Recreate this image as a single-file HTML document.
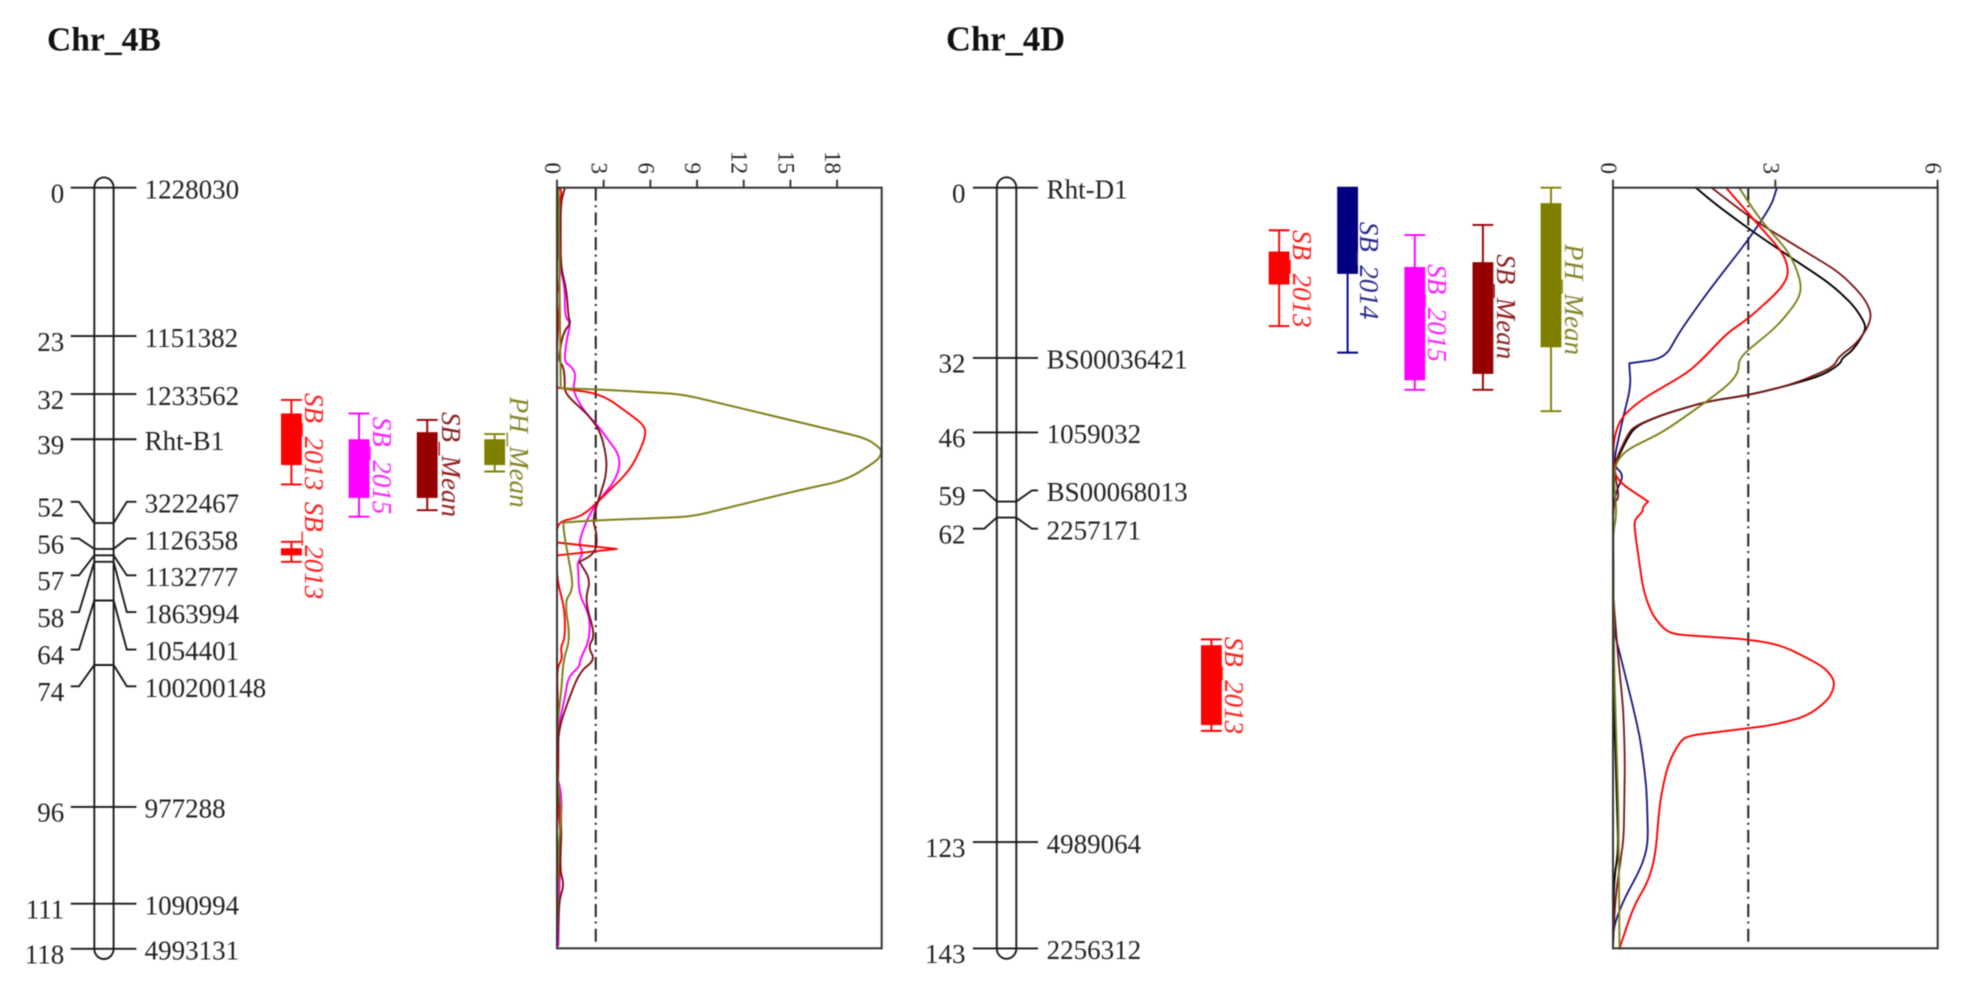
<!DOCTYPE html>
<html lang="en">
<head>
<meta charset="utf-8">
<title>Chr_4B and Chr_4D QTL maps</title>
<style>
html,body{margin:0;padding:0;background:#fff;width:1965px;height:990px;overflow:hidden}
svg{display:block;filter:blur(0.45px)}
text{font-family:"Liberation Serif","DejaVu Serif",serif;fill:#222}
</style>
</head>
<body>
<svg id="chart" xmlns="http://www.w3.org/2000/svg" width="1965" height="990" viewBox="0 0 1965 990">
<rect x="0" y="0" width="1965" height="990" fill="#fff"/>
<text x="47" y="50.7" font-size="33.6" font-weight="700" style="fill:#111">Chr_4B</text>
<text x="946" y="50.7" font-size="34.6" font-weight="700" style="fill:#111">Chr_4D</text>
</svg>
<script>
/* ---------- Chr_4B marker map ---------- */
const markerNames4B = ['1228030','1151382','1233562','Rht-B1','3222467','1126358','1132777','1863994','1054401','100200148','977288','1090994','4993131'];
const markerPos4B = [0,23,32,39,52,56,57,58,64,74,96,111,118];
const labelPos4B = [0,23,32,39,48.7,54.4,60.1,65.8,71.6,77.3,96,111,118];

/* ---------- Chr_4D marker map ---------- */
const markerNames4D = ['Rht-D1','BS00036421','1059032','BS00068013','2257171','4989064','2256312'];
const markerPos4D = [0,32,46,59,62,123,143];
const labelPos4D = [0,32,46,56.9,64.1,123,143];

/* ---------- QTL intervals (cM): names, whisker start/end, box start/end ---------- */
const qtlNames4B = ['SB_2013','SB_2015','SB_Mean','PH_Mean','SB_2013'];
const qtlLow4B = [32.9,35,36,38.2,54.9];
const qtlBoxLow4B = [35,39,37.9,39,55.9];
const qtlBoxHigh4B = [43,48.1,48.1,43,57];
const qtlHigh4B = [46,51,50,44,58];

const qtlNames4D = ['SB_2013','SB_2014','SB_2015','SB_Mean','PH_Mean','SB_2013'];
const qtlLow4D = [8,0,8.9,7,0,84.9];
const qtlBoxLow4D = [12,0,14.9,14,2.9,86];
const qtlBoxHigh4D = [18.2,16.2,36.2,35,30,101];
const qtlHigh4D = [26,31,38,38,42,102.1];

/* ---------- LOD axis ---------- */
const ticks4B = [0,3,6,9,12,15,18];
const ticks4D = [0,3,6];
const threshold4B = 2.49;
const threshold4D = 2.5;

/* ---------- Chr_4B LOD series ---------- */
const cM4B_magenta = [0,3.5,12.2,15.3,20,21,23.6,27,27.75,29,31.4,34.5,37,39.1,41.2,43.3,45.8,47.9,51,55.1,56.7,58.2,59.3,62.9,66.5,70.1,73.2,74.3,75.8,79,83.6,91.3,93.4,96,99,109.4,117.5];
const lod4B_magenta = [0,0,0.15,0.51,0.51,0.88,0.62,0.45,0.94,1.22,1.0,1.69,2.66,3.3,3.94,4.05,3.62,2.87,2.0,1.37,1.69,1.31,1.37,1.41,2.12,2.08,1.48,1.44,0.73,0.51,0.09,0,0.24,0.3,0.24,0.15,0.09];
const cM4B_maroon = [0,2.4,12.2,15.9,20,21,22.1,23.6,26.7,27.75,29.8,31.4,32.7,35,37.6,41.7,44.8,48.4,51.5,53.6,55.7,57,58,60.8,64,69.4,71.2,73.2,75,79.4,84.1,91.3,99.1,105.8,108.1,110.4,117.5];
const lod4B_maroon = [0.51,0.24,0.24,0.62,0.73,0.88,0.51,0.3,0.09,0.41,0.51,0.47,0.84,1.91,2.76,3.19,3.15,2.66,2.29,2.55,2.55,2.23,1.44,2.16,1.8,2.44,2.0,2.44,1.48,0.73,0.09,0,0.3,0.19,0.45,0.15,0];
const cM4B_red = [0,0.9,2.4,5.5,14.8,16.4,21,24.7,31,32,35.5,36.8,38,40.2,43.8,48.4,51,51.8,55,56,57,60.8,65.5,69.9,71.2,73,74.5,83.6,91.3,93.8,99,104,109.4,117.5];
const lod4B_red = [0.19,0.3,0.15,0,0,0.19,0.09,0,0,2.87,4.9,5.55,5.72,5.44,4.69,2.76,1.59,0,0,3.84,0,0,0.51,0.51,0.24,0.34,0,0.09,0.09,0,0.19,0.24,0,0];
const cM4B_olive = [0,31.1,31.27,32,38.86,40.4,40.9,42.2,45.3,47,51,51.6,51.9,53.6,57.2,60.8,62.6,64.2,69.9,73.2,77.4,83.6,91.3,97,102.2,117.5];
const lod4B_olive = [0.1,0.24,2.55,8.01,19.9,20.76,20.87,20.66,18.62,15.4,8.66,2.34,0.41,0.45,0.72,0.99,0.94,0.51,0.84,0.41,0.3,0,0,0.3,0.09,0];

/* ---------- Chr_4D LOD series ---------- */
const cM4D_black = [0,3.3,8.3,13,18,22,25.5,27,30.5,32.1,33,35.2,37.1,39,40.2,42.7,44.9,47.4,50.6,52.4,58.7,98,124.5,130,142];
const lod4D_black = [1.53,1.92,2.59,3.27,4.01,4.44,4.66,4.66,4.44,4.23,4.21,3.89,3.27,2.5,1.73,0.9,0.41,0.25,0.1,0,0,0.02,0.1,0.02,0];
const cM4D_navy = [0,3.3,9.8,19.9,27.4,32.1,33,37.4,43,52.1,54,56.8,60,82.5,93.8,103.2,112.6,123.3,127.6,134,138.9,143];
const lod4D_navy = [3.03,2.93,2.5,1.73,1.21,0.96,0.3,0.33,0.19,0,0.2,0.07,0,0,0.28,0.5,0.62,0.65,0.53,0.19,0.01,0];
const cM4D_maroon = [0,6,11,16,20.5,23.6,26.1,29.3,31.8,33.3,34.6,37.1,39,40.2,42.7,44.9,46.8,52.4,58.1,59.3,61.8,76.3,88.8,98,107.6,122,126.4,133.9,143];
const lod4D_maroon = [1.82,2.59,3.39,4.2,4.63,4.78,4.72,4.5,4.17,4.1,3.89,3.27,2.5,1.73,0.9,0.38,0.25,0,0.12,0.02,0,0,0.1,0.19,0.22,0.2,0.14,0.04,0];
const cM4D_red = [0,4.8,12.3,16.1,19.2,24.6,27.4,32.1,34.9,39.6,43,46.8,51.2,55,59,60,60.9,62.5,65,70,75.6,80,83,84,84.9,86,90,92.2,93.8,96.3,99.4,101,101.6,103,104.1,108.2,115.1,125.7,130.4,135.1,143];
const lod4D_red = [2.09,2.5,3.15,3.26,3.09,2.5,2.1,1.67,1.36,0.56,0.16,0.02,0,0.06,0.65,0.55,0.55,0.39,0.41,0.48,0.56,0.71,0.94,1.15,2.5,3.12,3.89,4.07,4.09,3.98,3.58,2.96,2.5,1.39,1.24,1.02,0.87,0.78,0.65,0.38,0.12];
const cM4D_olive = [0,6,12.3,18,21.1,26.1,31.9,34.6,36.8,40.2,45.9,49.6,53,61.2,65,88.8,117,143];
const lod4D_olive = [2.33,2.72,3.27,3.49,3.43,3.03,2.33,2.32,2.16,1.73,0.93,0.19,0,0.07,0,0.02,0.1,0.12];

const COLORS = {red:'#ff0000',magenta:'#ff00ff',maroon:'#7a1414',olive:'#7f7f1a',navy:'#14147f',black:'#000000'};
const BOX_COLORS = {SB_2013:'#ff0000',SB_2014:'#000080',SB_2015:'#ff00ff',SB_Mean:'#960000',PH_Mean:'#808000'};
const TEXT_COLORS = {SB_2013:'#ff2020',SB_2014:'#2a2a8a',SB_2015:'#ff20ff',SB_Mean:'#8f2020',PH_Mean:'#85852a'};

const NS = 'http://www.w3.org/2000/svg';
const svg = document.getElementById('chart');
function mk(tag, attrs, parent){
  const el = document.createElementNS(NS, tag);
  for(const k in attrs){ el.setAttribute(k, attrs[k]); }
  (parent || svg).appendChild(el);
  return el;
}

/* axis functions */
const plotTop = 187.7, plotBottom = 948.3;
const y4B = c => plotTop + c * 6.45;
const y4D = c => plotTop + c * 5.32;
const x4B = v => 557 + v * 15.56;
const x4D = v => 1613 + v * 54.1;

/* rounds gentle corners of a curve; keeps sharp spikes crisp */
function smoothPath(pts){
  let d = `M${pts[0][0].toFixed(1)} ${pts[0][1].toFixed(1)}`;
  for(let i = 1; i < pts.length - 1; i++){
    const p = pts[i - 1], c = pts[i], n = pts[i + 1];
    const ax = c[0] - p[0], ay = c[1] - p[1], bx = n[0] - c[0], by = n[1] - c[1];
    const la = Math.hypot(ax, ay) || 1, lb = Math.hypot(bx, by) || 1;
    const cos = (ax * bx + ay * by) / (la * lb);
    if(cos < 0.15){
      d += `L${c[0].toFixed(1)} ${c[1].toFixed(1)}`;
      continue;
    }
    const ra = Math.min(16, la * 0.45), rb = Math.min(16, lb * 0.45);
    const sx = c[0] - ax / la * ra, sy = c[1] - ay / la * ra;
    const ex = c[0] + bx / lb * rb, ey = c[1] + by / lb * rb;
    d += `L${sx.toFixed(1)} ${sy.toFixed(1)}Q${c[0].toFixed(1)} ${c[1].toFixed(1)} ${ex.toFixed(1)} ${ey.toFixed(1)}`;
  }
  const last = pts[pts.length - 1];
  d += `L${last[0].toFixed(1)} ${last[1].toFixed(1)}`;
  return d;
}

/* ---------- chromosome drawing ---------- */
function drawChromosome(cfg){
  const g = mk('g', {});
  
  
  const L = cfg.left, R = cfg.right, r = (R - L) / 2;
  const top = cfg.y(0), bot = cfg.y(cfg.max);
  const body = mk('path', {
    d: `M${L} ${top}A${r} ${r + 0.6} 0 0 1 ${R} ${top}V${bot}A${r} ${r + 0.6} 0 0 1 ${L} ${bot}Z`,
    fill: 'none', stroke: '#1a1a1a', 'stroke-width': 1.9
  }, g);
  
  
  cfg.pos.forEach((p, i) => {
    const by = cfg.y(p), ly = cfg.y(cfg.labelPos[i]);
    const d = `M${cfg.tickL} ${ly}H${cfg.elbowL}L${L} ${by}H${R}L${cfg.elbowR} ${ly}H${cfg.tickR}`;
    const line = mk('path', {d, fill: 'none', stroke: '#1a1a1a', 'stroke-width': 1.9}, g);
    
    
    const left = mk('text', {x: cfg.numX, y: ly + 14.7, 'font-size': 27, 'text-anchor': 'end'}, g);
    left.textContent = String(p);
    
    
    const right = mk('text', {x: cfg.nameX, y: ly + 10.7, 'font-size': 27}, g);
    right.textContent = cfg.names[i];
    
    
  });
}

/* ---------- QTL bars ---------- */
function drawQtl(q, y){
  const g = mk('g', {});
  
  
  const color = BOX_COLORS[q.label];
  const cx = (q.x0 + q.x1) / 2;
  const stem = mk('path', {
    d: `M${cx} ${y(q.low)}V${y(q.high)}M${q.x0} ${y(q.low)}H${q.x1}M${q.x0} ${y(q.high)}H${q.x1}`,
    fill: 'none', stroke: color, 'stroke-width': 1.9
  }, g);
  
  
  const box = mk('rect', {
    x: q.x0, y: y(q.boxLow), width: q.x1 - q.x0, height: y(q.boxHigh) - y(q.boxLow), fill: color
  }, g);
  
  
  const t = mk('text', {
    x: q.tx, y: q.ty, 'font-size': 27, 'font-style': 'italic',
    transform: `rotate(90 ${q.tx} ${q.ty})`
  }, g);
  t.textContent = q.label;
  t.style.fill = TEXT_COLORS[q.label];
  
  
}

/* ---------- LOD plot ---------- */
function drawPlot(cfg){
  const g = mk('g', {});
  
  
  const x0 = cfg.x(0);
  const thr = mk('line', {
    x1: cfg.x(cfg.threshold), x2: cfg.x(cfg.threshold), y1: plotTop, y2: plotBottom - 4,
    stroke: '#222', 'stroke-width': 2, 'stroke-dasharray': '13 4.5 2 5.2'
  }, g);
  
  
  cfg.series.forEach(s => {
    const pts = s.cM.map((c, i) => [cfg.x(s.lod[i]), cfg.y(c)]);
    const line = mk('path', {
      d: smoothPath(pts), fill: 'none', stroke: COLORS[s.color], 'stroke-width': s.w,
      'stroke-linejoin': 'round', 'stroke-linecap': 'round'
    }, g);
    
    
  });
  const frame = mk('rect', {
    x: x0, y: plotTop, width: cfg.right - x0, height: plotBottom - plotTop,
    fill: 'none', stroke: '#333', 'stroke-width': 2
  }, g);
  
  
  cfg.ticks.forEach(v => {
    const tx = cfg.x(v);
    const tick = mk('line', {x1: tx, x2: tx, y1: plotTop, y2: plotTop - 8, stroke: '#333', 'stroke-width': 1.9}, g);
    
    
    const bx = tx - 12, by = 174;
    const lab = mk('text', {
      x: bx, y: by, 'font-size': 23, 'text-anchor': 'end', transform: `rotate(90 ${bx} ${by})`
    }, g);
    lab.textContent = String(v);
    
    
  });
}

drawChromosome({
  name: 'chromosome-4b', left: 94.3, right: 113.6, y: y4B, max: 118,
  tickL: 70.7, elbowL: 79, elbowR: 126.8, tickR: 136.4, numX: 64.3, nameX: 144.6,
  pos: markerPos4B, labelPos: labelPos4B, names: markerNames4B
});
drawChromosome({
  name: 'chromosome-4d', left: 996.8, right: 1016.3, y: y4D, max: 143,
  tickL: 972.9, elbowL: 984.2, elbowR: 1032, tickR: 1038, numX: 965.5, nameX: 1046.6,
  pos: markerPos4D, labelPos: labelPos4D, names: markerNames4D
});

const qtlX4B = [281, 348.6, 416.8, 484.3, 281];
const qtlW = 20.8;
const qtlTextX4B = [305, 373, 441.8, 510, 305];
const qtlTextY4B = [393, 416.7, 412, 396.7, 501.8];
qtlNames4B.forEach((label, i) => {
  drawQtl({label, low: qtlLow4B[i], boxLow: qtlBoxLow4B[i], boxHigh: qtlBoxHigh4B[i], high: qtlHigh4B[i],
    x0: qtlX4B[i], x1: qtlX4B[i] + qtlW, tx: qtlTextX4B[i], ty: qtlTextY4B[i]}, y4B);
});
const qtlX4D = [1268.7, 1337.2, 1404.4, 1472.5, 1540.6, 1201];
const qtlTextX4D = [1293, 1360, 1428, 1496.8, 1564.8, 1224.9];
const qtlTextY4D = [230, 221.7, 264.3, 254.3, 244, 636.7];
qtlNames4D.forEach((label, i) => {
  drawQtl({label, low: qtlLow4D[i], boxLow: qtlBoxLow4D[i], boxHigh: qtlBoxHigh4D[i], high: qtlHigh4D[i],
    x0: qtlX4D[i], x1: qtlX4D[i] + qtlW, tx: qtlTextX4D[i], ty: qtlTextY4D[i]}, y4D);
});

drawPlot({
  name: 'lod-plot-4b', x: x4B, y: y4B, right: 881.7, ticks: ticks4B, threshold: threshold4B,
  series: [
    {color: 'magenta', cM: cM4B_magenta, lod: lod4B_magenta, w: 1.9},
    {color: 'red', cM: cM4B_red, lod: lod4B_red, w: 1.9},
    {color: 'maroon', cM: cM4B_maroon, lod: lod4B_maroon, w: 1.9},
    {color: 'olive', cM: cM4B_olive, lod: lod4B_olive, w: 2}
  ]
});
drawPlot({
  name: 'lod-plot-4d', x: x4D, y: y4D, right: 1937.7, ticks: ticks4D, threshold: threshold4D,
  series: [
    {color: 'black', cM: cM4D_black, lod: lod4D_black, w: 1.9},
    {color: 'navy', cM: cM4D_navy, lod: lod4D_navy, w: 1.8},
    {color: 'maroon', cM: cM4D_maroon, lod: lod4D_maroon, w: 1.8},
    {color: 'red', cM: cM4D_red, lod: lod4D_red, w: 1.9},
    {color: 'olive', cM: cM4D_olive, lod: lod4D_olive, w: 1.9}
  ]
});
</script>
</body>
</html>
